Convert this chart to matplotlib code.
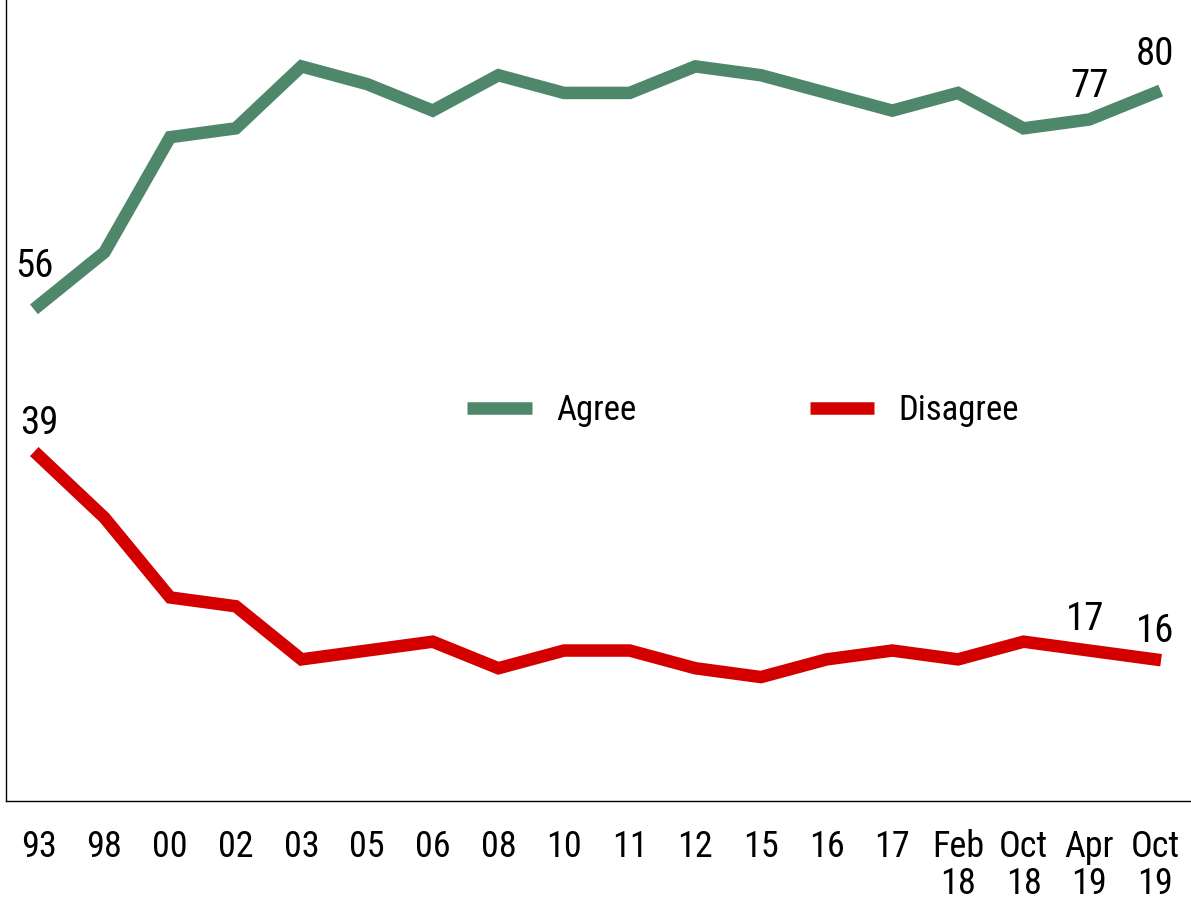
import matplotlib
matplotlib.use("Agg")
import matplotlib.pyplot as plt

plt.rcParams['font.family'] = ['Liberation Sans Narrow', 'Arial Narrow', 'Roboto Condensed',
                               'Archivo Narrow', 'Liberation Sans', 'DejaVu Sans']

labels = ["93", "98", "00", "02", "03", "05", "06", "08", "10", "11", "12",
          "15", "16", "17", "Feb\n18", "Oct\n18", "Apr\n19", "Oct\n19"]
agree = [56, 62, 75, 76, 83, 81, 78, 82, 80, 80, 83, 82, 80, 78, 80, 76, 77, 80]
disagree = [39, 32, 23, 22, 16, 17, 18, 15, 17, 17, 15, 14, 16, 17, 16, 18, 17, 16]

GREEN = "#4e876a"
RED = "#d40000"

fig = plt.figure(figsize=(11.91, 9.01), dpi=100)
ax = fig.add_axes([6 / 1191, 100 / 901, 1185 / 1191, 801 / 901])

x = list(range(len(labels)))
ax.plot(x, agree, color=GREEN, lw=9, solid_joinstyle='miter', label="Agree")
ax.plot(x, disagree, color=RED, lw=9, solid_joinstyle='miter', label="Disagree")

ax.set_xlim(-0.5, 17.55)
ax.set_ylim(0, 90.5)

# value labels
for i, off in [(0, (-3, 28)), (16, (0, 24)), (17, (0, 28))]:
    ax.annotate(str(agree[i]), (i, agree[i]), xytext=off, textcoords='offset points',
                ha='center', va='center', fontsize=28)
for i, off in [(0, (0, 23)), (16, (-3, 22)), (17, (0, 20))]:
    ax.annotate(str(disagree[i]), (i, disagree[i]), xytext=off, textcoords='offset points',
                ha='center', va='center', fontsize=28)

ax.set_xticks(x)
ax.set_xticklabels(labels, fontsize=26, linespacing=1.05, va='top')
ax.tick_params(axis='x', length=0, pad=20)
ax.set_yticks([])

for s in ['top', 'right']:
    ax.spines[s].set_visible(False)
for s in ['left', 'bottom']:
    ax.spines[s].set_linewidth(1.0)

leg = ax.legend(loc='center', bbox_to_anchor=(0.622, 0.487), ncol=2, frameon=False,
                fontsize=25, handlelength=1.85, handletextpad=0.7, columnspacing=5.0)
for h in leg.get_lines():
    h.set_solid_capstyle('butt')

fig.savefig("out.png", dpi=100)
